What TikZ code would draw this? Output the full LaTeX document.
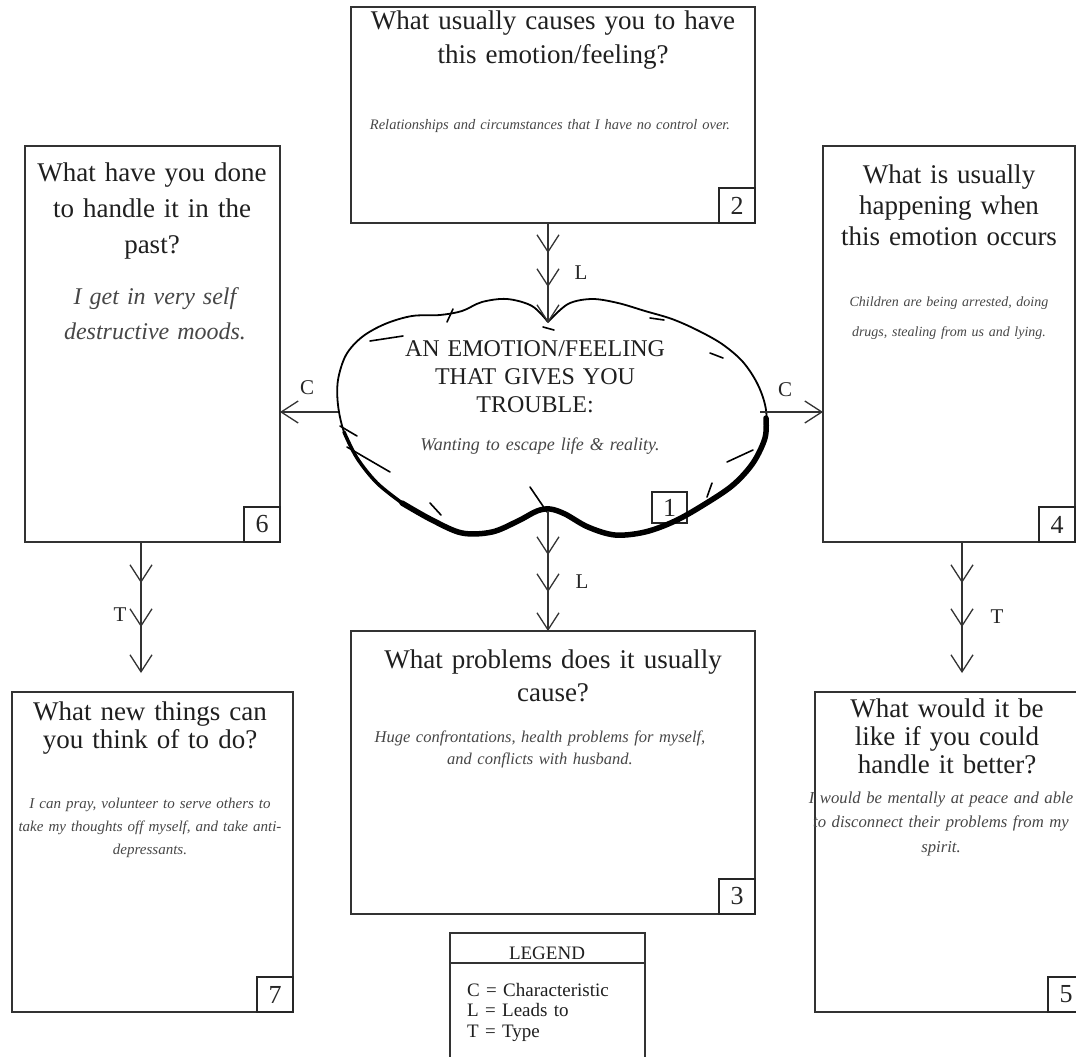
\documentclass[tikz,border=0pt]{standalone}
\usepackage{fontspec}
\setmainfont{Liberation Serif}
\usetikzlibrary{arrows.meta,decorations.markings}
\tikzset{
  qbox/.style={draw=black!80, line width=1.6pt, rectangle, inner sep=0pt, outer sep=0pt, anchor=north west},
  numbox/.style={draw=black!85, line width=1.6pt, rectangle, inner sep=0pt, outer sep=0pt,
     minimum width=36pt, minimum height=35pt, anchor=south east, text=black!85,
     font=\fontsize{26}{26}\selectfont},
  head/.style={anchor=base, align=center, inner sep=0pt, text=black!88,
     font=\fontsize{27}{#1}\selectfont, text width=420pt},
  scr/.style 2 args={anchor=base, align=center, inner sep=0pt, text=black!72,
     font=\fontsize{#1}{#2}\selectfont\itshape, text width=440pt},
  conn/.style={draw=black!80, line width=1.3pt},
  lbl/.style={font=\fontsize{21}{21}\selectfont, text=black!85, inner sep=0pt},
  barb/.style={-{Straight Barb[length=17pt,width=22pt,line width=1.3pt]}},
  twomarks/.style 2 args={postaction={decorate}, decoration={markings,
     mark=at position #1 with {\arrow[line width=1.3pt,black!80]{Straight Barb[length=17pt,width=22pt]}},
     mark=at position #2 with {\arrow[line width=1.3pt,black!80]{Straight Barb[length=17pt,width=22pt]}}}},
  cloudline/.style={draw=black, line width=1.8pt, line join=round, line cap=round},
  tick/.style={draw=black, line width=1.6pt, line cap=round}
}
\begin{document}
\begin{tikzpicture}[x=1pt,y=-1pt]
\clip (0,0) rectangle (1076,1057);
\fill[white] (0,0) rectangle (1076,1057);

% ---------- boxes ----------
\node[qbox, minimum width=404pt, minimum height=216pt] (b2) at (351,7) {};
\node[qbox, minimum width=255pt, minimum height=396pt] (b6) at (25,146) {};
\node[qbox, minimum width=252pt, minimum height=396pt] (b4) at (823,146) {};
\node[qbox, minimum width=404pt, minimum height=283pt] (b3) at (351,631) {};
\node[qbox, minimum width=281pt, minimum height=320pt] (b7) at (12,692) {};
\node[qbox, minimum width=269pt, minimum height=320pt] (b5) at (815,692) {};

\node[numbox] (n2) at (b2.south east) {2};
\node[numbox] (n6) at (b6.south east) {6};
\node[numbox] (n4) at (b4.south east) {4};
\node[numbox] (n3) at (b3.south east) {3};
\node[numbox] (n7) at (b7.south east) {7};
\node[numbox] (n5) at (b5.south east) {5};

% ---------- texts ----------
\node[head=34pt] (h2) at (553,30) {What usually causes you to have\\this emotion/feeling?};
\node[scr={14.5}{20}] (s2) at (550,129) {Relationships and circumstances that I have no control over.};

\node[head=36pt] (h6) at (152,181) {What have you done\\to handle it in the\\past?};
\node[scr={24}{35}] (s6) at (155,304) {I get in very self\\destructive moods.};

\node[head=31pt] (h4) at (949,183) {What is usually\\happening when\\this emotion occurs};
\node[scr={14}{30}] (s4) at (949,306) {Children are being arrested, doing\\drugs, stealing from us and lying.};

\node[head=33pt] (h3) at (553,668) {What problems does it usually\\cause?};
\node[scr={16.5}{22}] (s3) at (540,742) {Huge confrontations, health problems for myself,\\and conflicts with husband.};

\node[head=28pt] (h7) at (150,720) {What new things can\\you think of to do?};
\node[scr={15}{23}] (s7) at (150,808) {I can pray, volunteer to serve others to\\take my thoughts off myself, and take anti-\\depressants.};

\node[head=28pt] (h5) at (947,717) {What would it be\\like if you could\\handle it better?};
\node[scr={16.7}{24.5}] (s5) at (941,803) {I would be mentally at peace and able\\to disconnect their problems from my\\spirit.};

% ---------- cloud ----------
\node[numbox, minimum width=35pt, minimum height=31pt, anchor=north west] (n1) at (652,492) {1};
\draw[cloudline] plot[smooth, tension=0.55] coordinates {
 (548,322) (532,306) (507,299) (482,302) (462,311) (440,315) (412,316) (385,324)
 (362,337) (346,355) (338,380) (338,405) (344,432) (357,458) (377,483) (402,503)
 (432,520) (462,533) (492,532) (518,521) (537,511) (550,509) (565,514) (588,527)
 (615,535) (645,532) (675,521) (705,504) (733,485) (753,463) (765,438) (766,410)
 (758,385) (743,362) (722,344) (697,330) (672,319) (645,311) (618,303) (592,299)
 (568,304) (548,322)};
\draw[cloudline, line width=5.5pt] plot[smooth, tension=0.55] coordinates {
 (402,503) (432,520) (462,533) (492,532) (518,521) (537,511) (550,509) (565,514) (588,527)
 (615,535) (645,532) (675,521) (705,504) (733,485) (753,463) (765,438) (766,418)};
\draw[cloudline, line width=3.5pt] plot[smooth, tension=0.55] coordinates {
 (344,432) (357,458) (377,483) (402,503)};
% sketchy strokes
\draw[tick] (447,322) -- (453,309);
\draw[tick] (370,341) -- (403,336);
\draw[tick] (340,426) -- (357,436);
\draw[tick] (347,447) -- (390,472);
\draw[tick] (430,503) -- (441,515);
\draw[tick] (530,487) -- (547,512);
\draw[tick] (727,462) -- (753,450);
\draw[tick] (707,497) -- (712,483);
\draw[tick] (650,318) -- (664,320);
\draw[tick] (710,353) -- (723,358);
\draw[tick] (543,327) -- (554,330);

\node[anchor=base, align=center, inner sep=0pt, text=black!88, text width=300pt,
      font=\fontsize{24}{28}\selectfont] (c1) at (535,356) {AN EMOTION/FEELING\\THAT GIVES YOU\\TROUBLE:};
\node[scr={18}{22}] (cs) at (540,450) {Wanting to escape life \& reality.};

\coordinate (ctop) at (548,323);
\coordinate (cbot) at (548,511);
\coordinate (cleft) at (338,412);
\coordinate (cright) at (760,412);
\coordinate (t6end) at (141,673);
\coordinate (t4end) at (962,673);

% ---------- connectors ----------
\draw[conn, barb, twomarks={30pt}{64pt}] (ctop |- b2.south) -- (ctop);
\draw[conn, barb, twomarks={44pt}{81pt}] (cbot) -- (cbot |- b3.north);
\draw[conn, barb] (cleft) -- (b6.east |- cleft);
\draw[conn, barb] (cright) -- (b4.west |- cright);
\draw[conn, barb, twomarks={41pt}{85pt}] (t6end |- b6.south) -- (t6end);
\draw[conn, barb, twomarks={41pt}{85pt}] (t4end |- b4.south) -- (t4end);

\node[lbl] (lL1) at (581,273) {L};
\node[lbl] (lL2) at (582,582) {L};
\node[lbl] (lC1) at (307,388) {C};
\node[lbl] (lC2) at (785,390) {C};
\node[lbl] (lT1) at (120,615) {T};
\node[lbl] (lT2) at (997,617) {T};

% ---------- legend ----------
\node[qbox, minimum width=195pt, minimum height=140pt] (lg) at (450,933) {};
\coordinate (lgline) at (450,963);
\draw[draw=black!80, line width=1.6pt] (lg.west |- lgline) -- (lg.east |- lgline);
\node[inner sep=0pt, text=black!88, font=\fontsize{19}{19}\selectfont] (lgt) at (547,953) {LEGEND};
\node[anchor=base west, align=left, inner sep=0pt, text=black!88, text width=180pt,
      font=\fontsize{19}{20.5}\selectfont] (lgi) at (467,996) {C = Characteristic\\L = Leads to\\T = Type};
\end{tikzpicture}
\end{document}
